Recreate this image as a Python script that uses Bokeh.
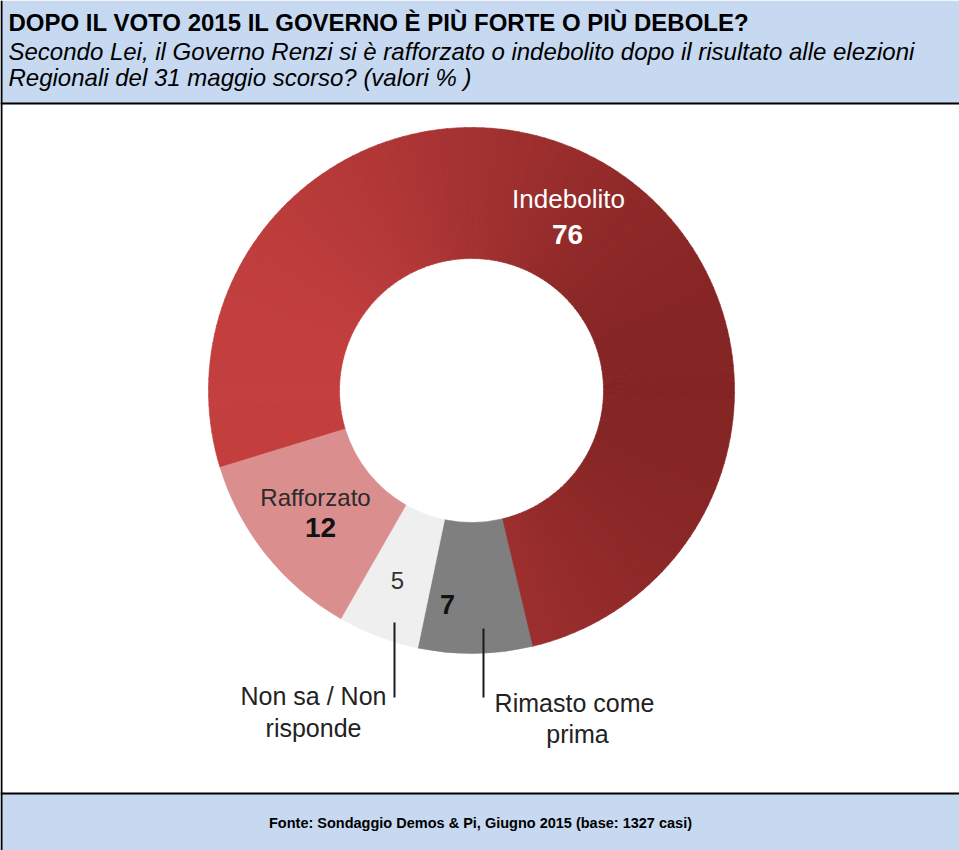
import math
from bokeh.plotting import figure
from bokeh.models import Range1d, Label, BoxAnnotation, Span, ColumnDataSource
from bokeh.embed import file_html
from bokeh.resources import INLINE

# ---------------- data ----------------
title_text = "DOPO IL VOTO 2015 IL GOVERNO È PIÙ FORTE O PIÙ DEBOLE?"
subtitle_lines = [
    "Secondo Lei, il Governo Renzi si è rafforzato o indebolito dopo il risultato alle elezioni",
    "Regionali del 31 maggio scorso? (valori % )",
]
source_text = "Fonte: Sondaggio Demos & Pi, Giugno 2015 (base: 1327 casi)"

categories = ["Indebolito", "Rimasto come prima", "Non sa / Non risponde", "Rafforzato"]
values = [76, 7, 5, 12]
slice_colors = ["gradient", "#7f7f7f", "#efefef", "#da8e8e"]
grad_left = (206, 68, 67)
grad_right = (122, 32, 32)

# ---------------- layout ----------------
W, H = 959, 850
FONT = "Liberation Sans"
BAND = "#c6d9f1"


def Y(sy):
    return H - sy


CX, CY = 471, Y(390)
R_OUT, R_IN = 263, 132
START_DEG = 253.0  # clockwise from 12 o'clock

p = figure(width=W, height=H, x_range=Range1d(0, W), y_range=Range1d(0, H),
           output_backend="svg", toolbar_location=None, min_border=0)
p.xaxis.visible = False
p.yaxis.visible = False
p.grid.visible = False
p.outline_line_color = None
p.background_fill_color = "white"
p.border_fill_color = "white"

# ---------------- donut ----------------
total = float(sum(values))
xs, ys, starts, ends, cols = [], [], [], [], []
cum = 0.0
for cat, v, c in zip(categories, values, slice_colors):
    th0 = START_DEG + 360.0 * cum / total
    th1 = th0 + 360.0 * v / total
    cum += v
    if c == "gradient":
        n = 140
        step = (th1 - th0) / n
        for k in range(n):
            a0 = th0 + k * step
            a1 = a0 + step
            mid = math.radians((a0 + a1) / 2)
            xm = CX + (R_IN + R_OUT) / 2 * math.sin(mid)
            t = (xm - (CX - R_OUT)) / (2 * R_OUT)
            t = min(max(t, 0), 1)
            rgb = tuple(int(round(grad_left[j] + (grad_right[j] - grad_left[j]) * t)) for j in range(3))
            xs.append(CX); ys.append(CY)
            starts.append(math.radians(90 - a0)); ends.append(math.radians(90 - a1 - 0.15))
            cols.append("#%02x%02x%02x" % rgb)
    else:
        xs.append(CX); ys.append(CY)
        starts.append(math.radians(90 - th0)); ends.append(math.radians(90 - th1))
        cols.append(c)

src = ColumnDataSource(dict(x=xs, y=ys, start=starts, end=ends, color=cols))
p.annular_wedge(x="x", y="y", inner_radius=R_IN, outer_radius=R_OUT,
                start_angle="start", end_angle="end", direction="clock",
                fill_color="color", line_color="color", line_width=0.6, source=src)

# ---------------- slice labels ----------------
def lab(text, x, sy, size, color="#222222", bold=False, align="center"):
    p.add_layout(Label(x=x, y=Y(sy), text=text, text_font=FONT,
                       text_font_size=f"{size}px", text_color=color,
                       text_font_style="bold" if bold else "normal",
                       text_align=align, text_baseline="middle"))


lab(categories[0], 568, 198, 26, color="white")
lab(str(values[0]), 567, 234, 28, color="white", bold=True)
lab(categories[3], 315, 497, 24, color="#2a2a2a")
lab(str(values[3]), 320, 527, 28, color="#111111", bold=True)
lab(str(values[2]), 397, 580, 24, color="#333333")
lab(str(values[1]), 447, 604, 27, color="#111111", bold=True)

lab("Non sa / Non", 313, 695, 25)
lab("risponde", 313, 727, 25)
lab("Rimasto come", 574, 702, 25)
lab("prima", 577, 733, 25)

p.segment(x0=[394, 483], y0=[Y(622), Y(628)], x1=[394, 483], y1=[Y(697), Y(697)],
          line_color="#1a1a1a", line_width=2)

# ---------------- header / footer ----------------
p.add_layout(BoxAnnotation(bottom=Y(103), top=H, fill_color=BAND, fill_alpha=1, line_color=None))
p.add_layout(BoxAnnotation(bottom=0, top=Y(793), fill_color=BAND, fill_alpha=1, line_color=None))
p.add_layout(Span(location=Y(103), dimension="width", line_color="black", line_width=2))
p.add_layout(Span(location=Y(793), dimension="width", line_color="black", line_width=2))
p.add_layout(Span(location=1, dimension="height", line_color="black", line_width=2))

p.add_layout(Label(x=8, y=Y(22), text=title_text, text_font=FONT, text_font_size="24px",
                   text_font_style="bold", text_color="black", text_baseline="middle"))
p.add_layout(Label(x=8, y=Y(51), text=subtitle_lines[0], text_font=FONT, text_font_size="24px",
                   text_font_style="italic", text_color="black", text_baseline="middle"))
p.add_layout(Label(x=8, y=Y(77), text=subtitle_lines[1], text_font=FONT, text_font_size="24px",
                   text_font_style="italic", text_color="black", text_baseline="middle"))
p.add_layout(Label(x=480, y=Y(822), text=source_text, text_font=FONT, text_font_size="14.5px",
                   text_font_style="bold", text_color="black", text_baseline="middle",
                   text_align="center"))

open("out.html", "w").write(file_html(p, INLINE))
